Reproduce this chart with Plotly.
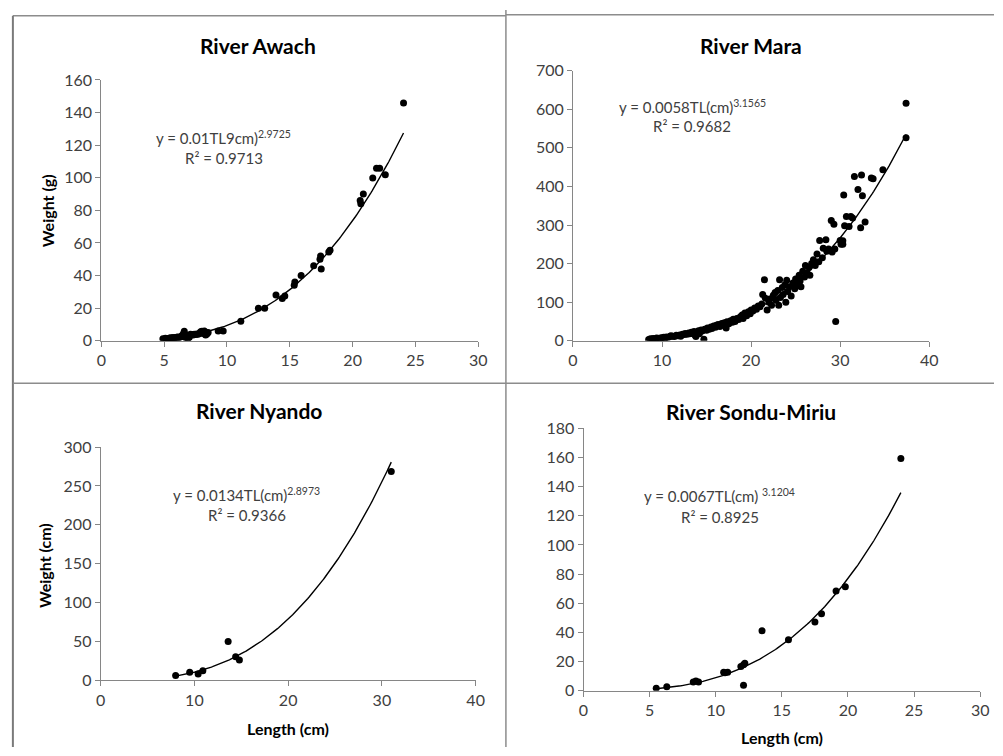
import numpy as np
import plotly.graph_objects as go

# ---------------- data ----------------
titles = ["River Awach", "River Mara", "River Nyando", "River Sondu-Miriu"]

awach_x = [4.9, 5.0, 5.1, 5.2, 5.3, 5.4, 5.5, 5.6, 5.7, 5.8, 5.9, 6.0, 6.1, 6.2, 6.3, 6.4, 6.5, 6.5,
           6.6, 6.7, 6.7, 6.8, 6.9, 7.0, 7.0, 7.1, 7.2, 7.3, 7.4, 7.5, 7.6, 7.7, 7.8, 7.9, 8.0, 8.1,
           8.2, 8.3, 8.4, 8.5, 8.3, 9.3, 9.7, 11.1, 12.5, 13.0, 13.9, 14.4, 14.6, 15.35, 15.4, 15.9,
           16.9, 17.4, 17.45, 17.5, 18.1, 18.2, 20.6, 20.65, 20.85, 21.6, 21.9, 22.15, 22.6, 24.05]
awach_y = [1.2, 1.0, 1.5, 1.3, 1.4, 1.6, 1.8, 1.5, 2.0, 1.7, 2.0, 2.1, 2.3, 2.0, 2.5, 3.0, 2.6, 4.0,
           5.8, 3.5, 2.0, 3.0, 1.5, 3.2, 2.2, 4.0, 3.8, 3.5, 4.0, 3.8, 4.2, 4.0, 4.5, 5.5, 5.8, 4.5,
           6.0, 5.0, 4.2, 5.0, 3.5, 6.0, 6.0, 12.0, 20.0, 20.0, 28.0, 26.0, 27.5, 34.0, 36.0, 40.0,
           46.0, 50.0, 52.0, 44.0, 54.4, 55.5, 86.0, 84.0, 90.0, 99.8, 105.8, 105.8, 101.8, 145.8]

mara_x = [8.5, 8.7, 8.9, 9.0, 9.2, 9.4, 9.6, 9.8, 10.0, 10.2, 10.3, 10.5, 10.7, 10.9, 11.0, 11.2,
          11.4, 11.6, 11.8, 12.0, 12.1, 12.3, 12.5, 12.6, 12.8, 13.0, 13.1, 13.3, 13.4, 13.6, 13.7,
          13.8, 14.0, 14.1, 14.2, 14.4, 14.5, 14.7, 14.8, 15.0, 15.1, 15.3, 15.5, 15.6, 15.8, 16.0,
          16.1, 16.3, 16.5, 16.7, 16.9, 17.0, 17.2, 17.3, 17.5, 17.7, 17.9, 18.0, 18.2, 18.4, 18.6,
          18.8, 19.0, 19.1, 19.3, 19.5, 19.7, 19.9, 20.0, 20.2, 20.4, 20.6, 20.8, 21.0, 21.2, 21.3,
          21.5, 21.6, 21.8, 22.0, 22.1, 22.3, 22.5, 22.7, 22.8, 23.0, 23.1, 23.2, 23.3, 23.5, 23.6,
          23.8, 23.9, 24.0, 24.1, 24.3, 24.5, 24.7, 24.9, 25.0, 25.2, 25.4, 25.5, 25.6, 25.8, 26.0,
          26.1, 26.3, 26.5, 26.6, 26.8, 27.0, 27.2, 27.4, 27.6, 27.7, 28.0, 28.1, 28.4, 28.5, 28.7,
          29.0, 29.1, 29.3, 29.4, 29.5, 30.0, 30.1, 30.3, 30.3, 30.4, 30.5, 30.7, 31.0, 31.2, 31.4,
          31.6, 32.0, 32.3, 32.4, 32.5, 32.8, 33.5, 33.7, 34.8, 37.4, 37.4]
mara_y = [3, 5, 4, 6, 5, 7, 6, 7, 8, 9, 6, 10, 9, 11, 13, 12,
          11, 14, 13, 15, 12, 17, 16, 19, 17, 20, 18, 22, 19, 24, 15,
          11, 22, 26, 18, 28, 25, 4, 30, 27, 33, 30, 36, 32, 38, 35,
          40, 42, 37, 45, 41, 47, 33, 49, 44, 52, 48, 56, 50, 58, 55,
          62, 67, 58, 72, 65, 75, 70, 80, 77, 85, 82, 90, 88, 95, 120,
          158, 110, 80, 100, 108, 92, 118, 125, 105, 130, 92, 158, 112, 138, 120,
          145, 100, 157, 128, 140, 116, 150, 135, 160, 145, 170, 155, 140, 180, 165,
          195, 175, 190, 170, 200, 210, 195, 225, 205, 260, 215, 240, 262, 232, 238,
          312, 230, 302, 238, 50, 260, 250, 259, 250, 378, 298, 322, 296, 322, 318,
          426, 392, 293, 430, 376, 308, 422, 420, 443, 526, 616]

nyando_x = [8.0, 9.5, 10.4, 10.9, 13.6, 14.4, 14.8, 31.0]
nyando_y = [6.3, 10.4, 8.4, 12.5, 50.0, 30.5, 26.3, 268.7]

sondu_x = [5.5, 6.3, 8.3, 8.5, 8.7, 10.6, 10.7, 10.9, 11.9, 12.1, 12.2, 12.1, 13.5, 15.5, 17.5, 18.0,
           19.1, 19.8, 24.0]
sondu_y = [1.8, 2.7, 6.0, 6.7, 6.0, 12.7, 12.3, 12.7, 16.7, 17.8, 18.9, 3.8, 41.2, 35.0, 47.2, 52.8,
           68.4, 71.3, 159.3]

# power-law fits shown in the chart: W = a * L^b
fit_a = [0.01, 0.0058, 0.0134, 0.0067]
fit_b = [2.9725, 3.1565, 2.8973, 3.1204]
eq_text = ["y = 0.01TL9cm)<sup>2.9725</sup>", "y = 0.0058TL(cm)<sup>3.1565</sup>",
           "y = 0.0134TL(cm)<sup>2.8973</sup>", "y = 0.0067TL(cm) <sup>3.1204</sup>"]
r2_text = ["R² = 0.9713", "R² = 0.9682", "R² = 0.9366", "R² = 0.8925"]

x_ranges = [[0, 30], [0, 40], [0, 40], [0, 30]]
x_dticks = [5, 10, 10, 5]
y_ranges = [[0, 160], [0, 700], [0, 300], [0, 180]]
y_dticks = [20, 100, 50, 20]

# ---------------- layout geometry ----------------
W, H = 1003, 756
def px(v):
    return v / W
def py(v):
    return 1 - v / H

x_domains = [[px(97.7), px(480)], [px(576), px(937.3)], [px(97), px(477.3)], [px(586.7), px(989)]]
y_domains = [[py(339.3), py(71.7)], [py(339.3), py(62.3)], [py(687.7), py(448.3)], [py(698.3), py(429)]]

title_pos = [(257, 36), (757, 36), (258, 411), (757, 412)]
eq_pos = [(222, 131), (697, 99), (245, 497), (725, 498)]
r2_pos = [(222, 152), (697, 119), (245, 518), (725, 520)]

FONT = "Lato, Calibri, Carlito, sans-serif"
TXT = "#404040"
AXC = "#868686"

datasets = [(awach_x, awach_y), (mara_x, mara_y), (nyando_x, nyando_y), (sondu_x, sondu_y)]

fig = go.Figure()
layout = dict(
    width=W, height=H, margin=dict(l=0, r=0, t=0, b=0),
    paper_bgcolor="white", plot_bgcolor="white", showlegend=False,
    font=dict(family=FONT, color=TXT, size=16),
)
annotations = []
shapes = []

def ann(text, x, y, size, color, angle=0):
    return dict(text=text, x=px(x), y=py(y), xref="paper", yref="paper", showarrow=False,
                xanchor="center", yanchor="middle", textangle=angle,
                font=dict(size=size, color=color, family=FONT))

for i, (xs, ys) in enumerate(datasets):
    n = "" if i == 0 else str(i + 1)
    fig.add_trace(go.Scatter(x=xs, y=ys, mode="markers",
                             marker=dict(color="black", size=7),
                             xaxis="x" + n, yaxis="y" + n))
    xl = np.linspace(min(xs), max(xs), 200)
    fig.add_trace(go.Scatter(x=xl, y=fit_a[i] * xl ** fit_b[i], mode="lines",
                             line=dict(color="black", width=1.4),
                             xaxis="x" + n, yaxis="y" + n))
    common = dict(showgrid=False, zeroline=False, showline=True, linecolor=AXC, linewidth=1,
                  ticks="outside", ticklen=5, tickcolor=AXC, tick0=0,
                  tickfont=dict(size=16, color=TXT, family=FONT))
    layout["xaxis" + n] = dict(domain=x_domains[i], range=x_ranges[i], dtick=x_dticks[i],
                               anchor="y" + n, **common)
    layout["yaxis" + n] = dict(domain=y_domains[i], range=y_ranges[i], dtick=y_dticks[i],
                               anchor="x" + n, **common)
    annotations.append(ann("<b>%s</b>" % titles[i], title_pos[i][0], title_pos[i][1], 21, "black"))
    annotations.append(ann(eq_text[i], eq_pos[i][0], eq_pos[i][1], 15, TXT))
    annotations.append(ann(r2_text[i], r2_pos[i][0], r2_pos[i][1], 15, TXT))

# axis titles
annotations += [
    ann("<b>Weight (g)</b>", 43, 206, 16, "black", -90),
    ann("<b>Weight (cm)</b>", 40, 570, 16, "black", -90),
    ann("<b>Length (cm)</b>", 287, 737, 16, "black"),
    ann("<b>Length (cm)</b>", 788, 746, 16, "black"),
]

# panel borders
def seg(x0, y0, x1, y1, w=1.5, c="#8c8c8c"):
    return dict(type="line", xref="paper", yref="paper", x0=px(x0), y0=py(y0), x1=px(x1), y1=py(y1),
                line=dict(color=c, width=w))

shapes += [
    seg(8, 6, 508, 6),
    seg(508, 5, 1003, 5),
    seg(8, 6, 8, 756, 2, "#7a7a7a"),
    seg(508, 0, 508, 756),
    seg(8, 383, 1003, 383),
]

layout["annotations"] = annotations
layout["shapes"] = shapes
fig.update_layout(**layout)
fig.write_html("out.html", config={"displayModeBar": False},
               post_script="document.body.style.margin='0';document.body.style.padding='0';"
                           "document.body.style.overflow='hidden';")
